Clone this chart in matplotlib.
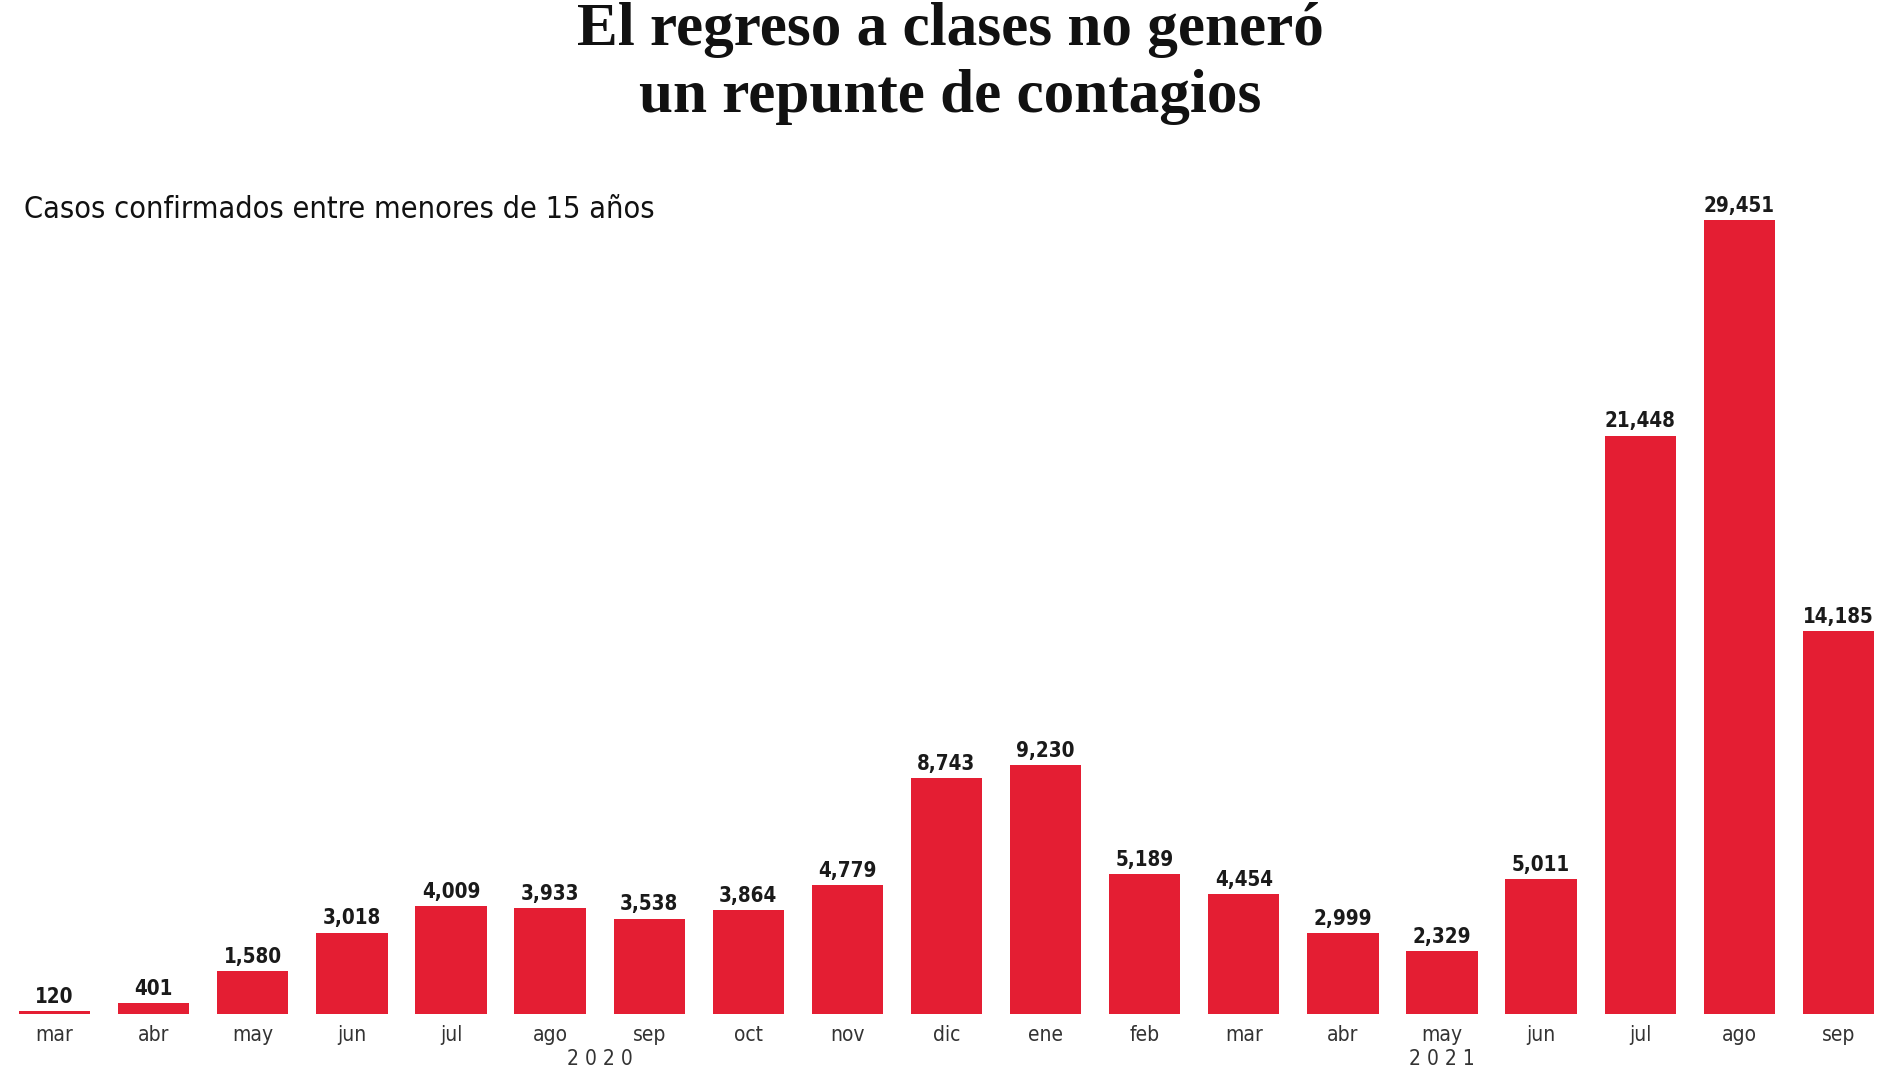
import matplotlib.pyplot as plt

months = ['mar', 'abr', 'may', 'jun', 'jul', 'ago', 'sep', 'oct', 'nov', 'dic',
          'ene', 'feb', 'mar', 'abr', 'may', 'jun', 'jul', 'ago', 'sep']
cases = [120, 401, 1580, 3018, 4009, 3933, 3538, 3864, 4779, 8743,
         9230, 5189, 4454, 2999, 2329, 5011, 21448, 29451, 14185]
years = ['2020', '2021']
year_pos = [5.5, 14]

red = '#e41e33'
sans = dict(family='DejaVu Sans', fontstretch='condensed')

fig = plt.figure(figsize=(19, 10.68), dpi=100)
ax = fig.add_axes([5 / 1900, 54 / 1068, 1883 / 1900, 809 / 1068])

x = list(range(len(months)))
ax.bar(x, cases, width=0.72, color=red)
ax.set_xlim(-0.5, len(months) - 0.5)
ax.set_ylim(0, 30000)
ax.axis('off')

for xi, v in zip(x, cases):
    ax.annotate(f'{v:,}', (xi, v), xytext=(0, 3), textcoords='offset points',
                ha='center', va='bottom', fontsize=14.8, fontweight='bold',
                color='#1a1a1a', **sans)

for xi, m in zip(x, months):
    ax.annotate(m, (xi, 0), xytext=(0, -8), textcoords='offset points',
                ha='center', va='top', fontsize=15, color='#333333', **sans)

for yp, yr in zip(year_pos, years):
    ax.annotate(' '.join(yr), (yp, 0), xytext=(0, -25), textcoords='offset points',
                ha='center', va='top', fontsize=15, color='#333333', **sans)

fig.text(0.5, 1 - 45 / 1068, 'El regreso a clases no generó', ha='center',
         va='baseline', fontsize=44, fontweight='bold', family='Liberation Serif',
         color='#111111')
fig.text(0.5, 1 - 112 / 1068, 'un repunte de contagios', ha='center',
         va='baseline', fontsize=44, fontweight='bold', family='Liberation Serif',
         color='#111111')
fig.text(24 / 1900, 1 - 209 / 1068, 'Casos confirmados entre menores de 15 años',
         ha='left', va='center', fontsize=22, color='#111111', **sans)

fig.savefig('out.png', dpi=100, facecolor='white')
